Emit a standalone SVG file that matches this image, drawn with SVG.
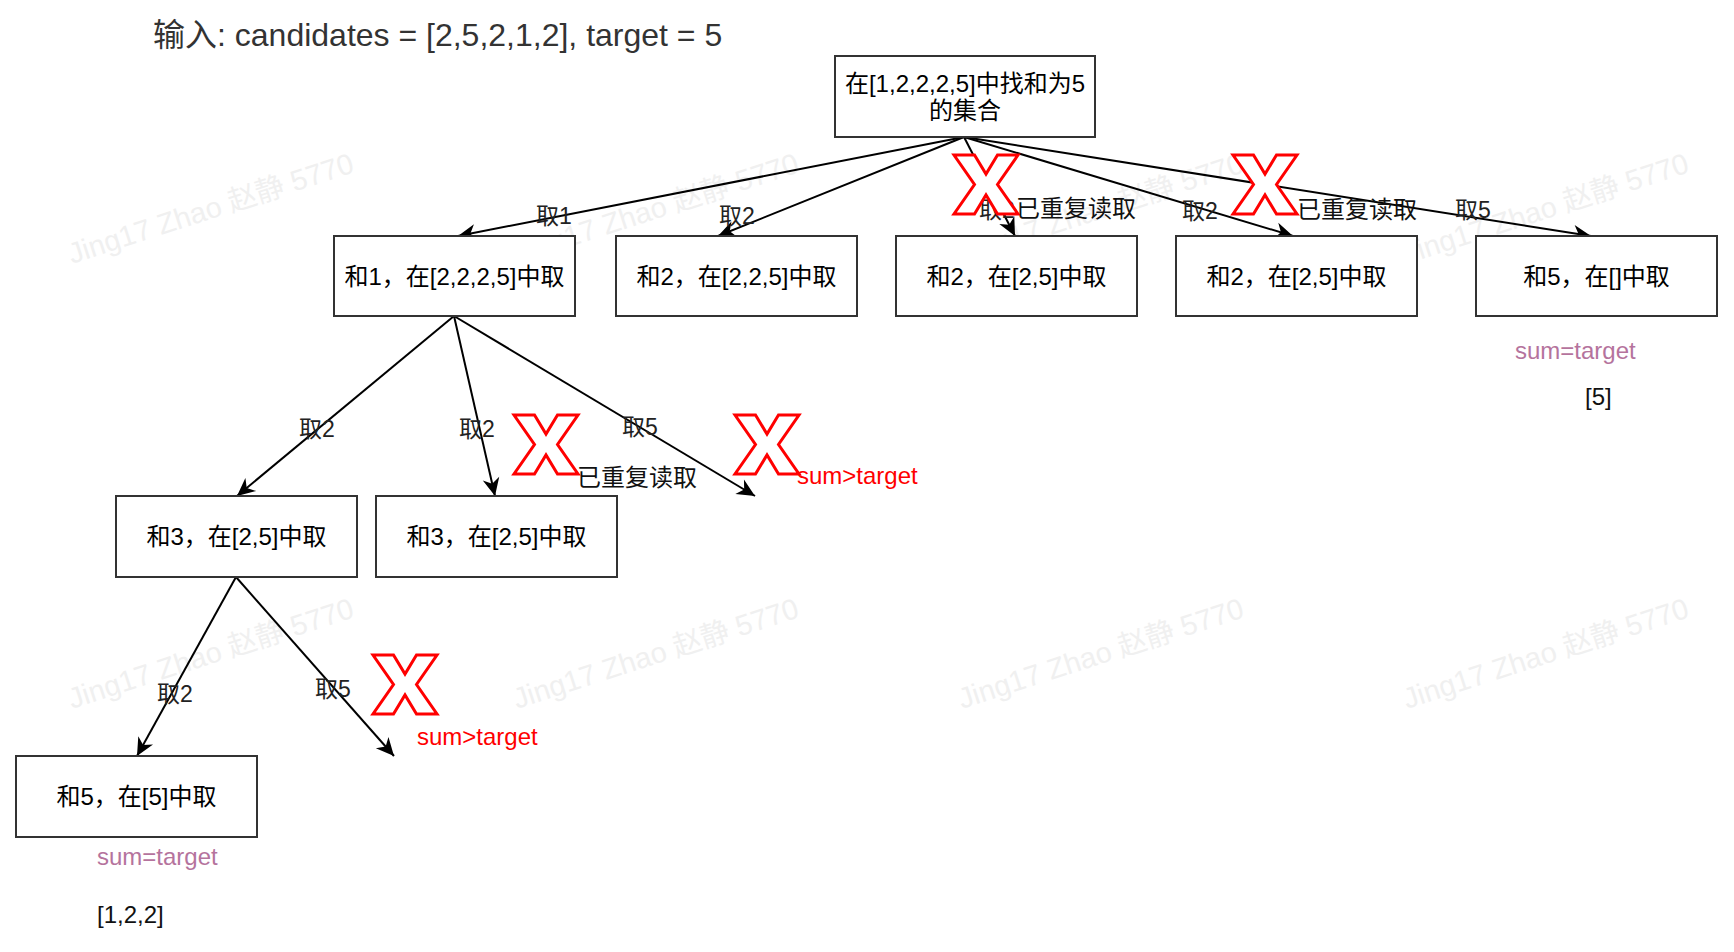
<svg xmlns="http://www.w3.org/2000/svg" xmlns:xlink="http://www.w3.org/1999/xlink" width="1734" height="952" viewBox="0 0 1734 952">
<style>
  .t { font-family: "Liberation Sans", "Noto Sans CJK SC", sans-serif; }
  .box { fill: #ffffff; stroke: #333333; stroke-width: 2; }
  .nt { font-size: 24px; fill: #000000; text-anchor: middle; }
  .lbl { font-size: 23px; fill: #222222; text-anchor: middle; }
  .note { font-size: 24px; fill: #111111; }
  .ok { font-size: 24px; fill: #B5739D; }
  .bad { font-size: 24px; fill: #FF0000; }
  .edge { fill: none; stroke: #000000; stroke-width: 2; marker-end: url(#arrow); }
  .xm { fill: #ffffff; stroke: #FF0000; stroke-width: 3; stroke-linejoin: miter; }
  .wm { font-size: 29px; fill: #f0f0f0; }
</style>
<defs>
  <marker id="arrow" markerUnits="userSpaceOnUse" markerWidth="20" markerHeight="20" viewBox="-18 -9 19 18" refX="0" refY="0" orient="auto">
    <path d="M0,0 L-17,-8 L-12,0 L-17,8 Z" fill="#000000"/>
  </marker>
  <path id="xshape" class="xm" d="M0,0 L20.5,0 L32,19 L43.5,0 L64,0 L43.5,29.5 L64,59 L43.5,59 L32,40 L20.5,59 L0,59 L20.5,29.5 Z"/>
</defs>
<rect x="0" y="0" width="1734" height="952" fill="#ffffff"/>

<g id="watermarks" class="t">
  <text class="wm" x="72" y="264" transform="rotate(-18 72 264)">Jing17 Zhao 赵静 5770</text>
  <text class="wm" x="517" y="264" transform="rotate(-18 517 264)">Jing17 Zhao 赵静 5770</text>
  <text class="wm" x="962" y="264" transform="rotate(-18 962 264)">Jing17 Zhao 赵静 5770</text>
  <text class="wm" x="1407" y="264" transform="rotate(-18 1407 264)">Jing17 Zhao 赵静 5770</text>
  <text class="wm" x="72" y="709" transform="rotate(-18 72 709)">Jing17 Zhao 赵静 5770</text>
  <text class="wm" x="517" y="709" transform="rotate(-18 517 709)">Jing17 Zhao 赵静 5770</text>
  <text class="wm" x="962" y="709" transform="rotate(-18 962 709)">Jing17 Zhao 赵静 5770</text>
  <text class="wm" x="1407" y="709" transform="rotate(-18 1407 709)">Jing17 Zhao 赵静 5770</text>
</g>

<text id="title" class="t" x="153" y="46" font-size="32" fill="#333333">输入: candidates = [2,5,2,1,2], target = 5</text>

<g id="connectors">
  <line class="edge" x1="964" y1="137" x2="458" y2="236"/>
  <line class="edge" x1="964" y1="137" x2="718" y2="236"/>
  <line class="edge" x1="964" y1="137" x2="1015" y2="236"/>
  <line class="edge" x1="964" y1="137" x2="1293" y2="236"/>
  <line class="edge" x1="964" y1="137" x2="1591" y2="236"/>
  <line class="edge" x1="454" y1="316" x2="237" y2="496"/>
  <line class="edge" x1="454" y1="316" x2="495" y2="496"/>
  <line class="edge" x1="454" y1="316" x2="755" y2="496"/>
  <line class="edge" x1="236" y1="577" x2="137" y2="756"/>
  <line class="edge" x1="236" y1="577" x2="394" y2="756"/>
</g>

<g id="edge-labels" class="t">
  <text class="lbl" x="554" y="224">取1</text>
  <text class="lbl" x="737" y="224">取2</text>
  <text class="lbl" x="997" y="218">取2</text>
  <text class="lbl" x="1200" y="219">取2</text>
  <text class="lbl" x="1473" y="218">取5</text>
  <text class="lbl" x="317" y="437">取2</text>
  <text class="lbl" x="477" y="437">取2</text>
  <text class="lbl" x="640" y="435">取5</text>
  <text class="lbl" x="175" y="702">取2</text>
  <text class="lbl" x="333" y="697">取5</text>
</g>

<g id="root">
  <rect class="box" x="835" y="56" width="260" height="81"/>
  <text class="t nt" x="965" y="92">在[1,2,2,2,5]中找和为5</text>
  <text class="t nt" x="965" y="119">的集合</text>
</g>
<g id="n1">
  <rect class="box" x="334" y="236" width="241" height="80"/>
  <text class="t nt" x="454.5" y="285">和1，在[2,2,2,5]中取</text>
</g>
<g id="n2">
  <rect class="box" x="616" y="236" width="241" height="80"/>
  <text class="t nt" x="736.5" y="285">和2，在[2,2,5]中取</text>
</g>
<g id="n3">
  <rect class="box" x="896" y="236" width="241" height="80"/>
  <text class="t nt" x="1016.5" y="285">和2，在[2,5]中取</text>
</g>
<g id="n4">
  <rect class="box" x="1176" y="236" width="241" height="80"/>
  <text class="t nt" x="1296.5" y="285">和2，在[2,5]中取</text>
</g>
<g id="n5">
  <rect class="box" x="1476" y="236" width="241" height="80"/>
  <text class="t nt" x="1596.5" y="285">和5，在[]中取</text>
</g>
<g id="n6">
  <rect class="box" x="116" y="496" width="241" height="81"/>
  <text class="t nt" x="236.5" y="545">和3，在[2,5]中取</text>
</g>
<g id="n7">
  <rect class="box" x="376" y="496" width="241" height="81"/>
  <text class="t nt" x="496.5" y="545">和3，在[2,5]中取</text>
</g>
<g id="n8">
  <rect class="box" x="16" y="756" width="241" height="81"/>
  <text class="t nt" x="136.5" y="805">和5，在[5]中取</text>
</g>

<g id="marks">
  <use xlink:href="#xshape" x="954" y="155"/>
  <use xlink:href="#xshape" x="1233" y="155"/>
  <use xlink:href="#xshape" x="514" y="415"/>
  <use xlink:href="#xshape" x="735" y="415"/>
  <use xlink:href="#xshape" x="373" y="655"/>
</g>

<g id="notes" class="t">
  <text class="note" x="1016" y="217">已重复读取</text>
  <text class="note" x="1297" y="218">已重复读取</text>
  <text class="note" x="577" y="486">已重复读取</text>
  <text class="bad" x="797" y="484">sum&gt;target</text>
  <text class="bad" x="417" y="745">sum&gt;target</text>
  <text class="ok" x="1515" y="359">sum=target</text>
  <text class="note" x="1585" y="405">[5]</text>
  <text class="ok" x="97" y="865">sum=target</text>
  <text class="note" x="97" y="923">[1,2,2]</text>
</g>
</svg>
